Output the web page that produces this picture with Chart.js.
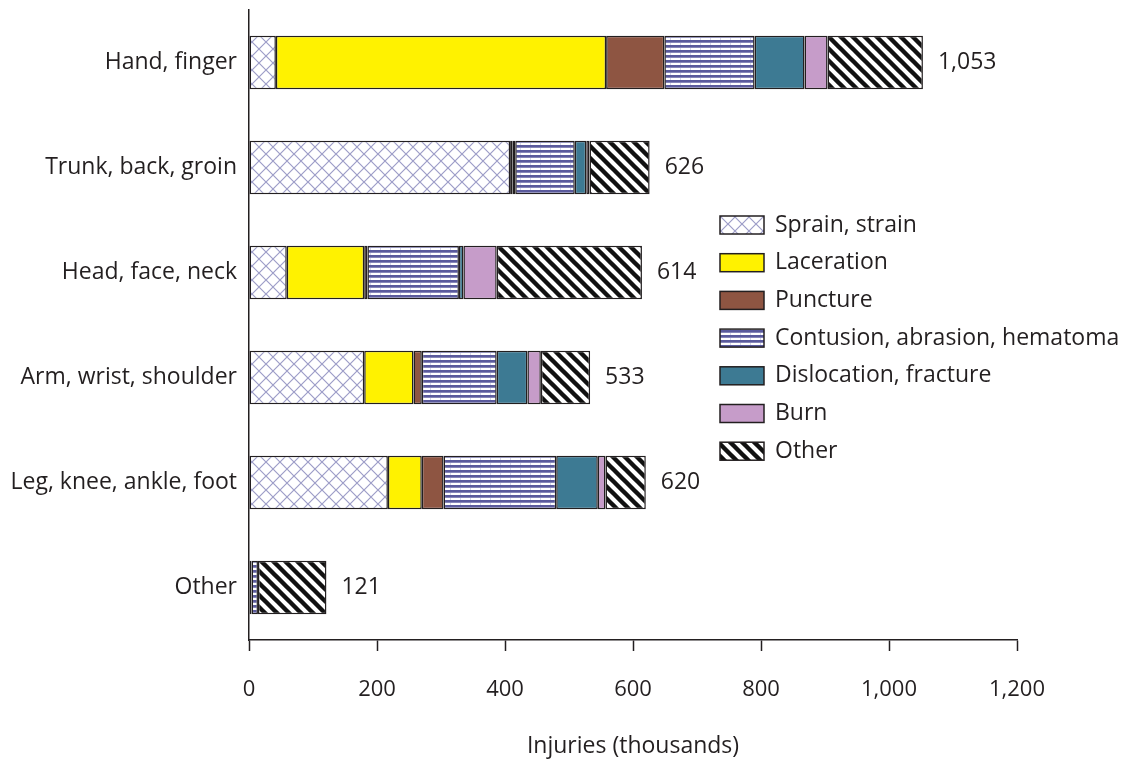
<!DOCTYPE html>
<html lang="en">
<head>
  <meta charset="UTF-8" />
  <title>Injuries by body part and type</title>
  <style>
    body {
      margin: 0;
      background: #fff;
    }
    #wrap {
      width: 1133px;
      height: 761px;
    }
  </style>
</head>
<body>
  <div id="wrap"><canvas id="chart" width="1133" height="761"></canvas></div>

  <script src="https://cdn.jsdelivr.net/npm/chart.js"></script>
  <script>
    // categories (top to bottom)
    const bodyParts = ["Hand, finger", "Trunk, back, groin", "Head, face, neck", "Arm, wrist, shoulder", "Leg, knee, ankle, foot", "Other"];

    // injury types, thousands
    const sprain     = [42, 408, 59, 180, 217, 1];
    const laceration = [516, 4, 121, 77, 53, 0];
    const puncture   = [91, 4, 5, 13, 34, 3];
    const contusion  = [141, 93, 143, 117, 176, 10];
    const dislocation = [78, 18, 7, 48, 65, 0];
    const burn       = [36, 5, 52, 21, 12, 0];
    const other      = [149, 94, 227, 77, 63, 107];

    const totalLabels = ["1,053", "626", "614", "533", "620", "121"];
    const xTicks = [0, 200, 400, 600, 800, 1000, 1200];

    const ink = "#231f20";
    const font = "'Open Sans', 'DejaVu Sans', sans-serif";

    function tile(w, h, draw) {
      const c = document.createElement("canvas");
      c.width = w; c.height = h;
      const g = c.getContext("2d");
      g.fillStyle = "#fff";
      g.fillRect(0, 0, w, h);
      draw(g);
      return document.getElementById("chart").getContext("2d").createPattern(c, "repeat");
    }

    // diamond lattice for sprain
    const sprainFill = tile(14, 14, g => {
      g.strokeStyle = "#9d9dc8";
      g.lineWidth = 1.2;
      g.beginPath();
      g.moveTo(-1, -1); g.lineTo(15, 15);
      g.moveTo(15, -1); g.lineTo(-1, 15);
      g.stroke();
    });

    // horizontal stripes for contusion
    const contusionFill = tile(10, 5, g => {
      g.fillStyle = "#5a5a9c";
      g.fillRect(0, 0, 10, 2);
      g.fillStyle = "#8686b8";
      g.fillRect(0, 2, 10, 1);
      g.fillStyle = "#d4d4e8";
      g.fillRect(0, 3, 1, 2);
    });

    // black diagonal stripes for other
    const otherFill = tile(12, 12, g => {
      g.strokeStyle = "#111";
      g.lineWidth = 4.4;
      g.beginPath();
      [-12, 0, 12].forEach(x0 => {
        g.moveTo(x0 - 2, -2);
        g.lineTo(x0 + 14, 14);
      });
      g.stroke();
    });

    const series = [
      { label: "Sprain, strain", data: sprain, fill: sprainFill },
      { label: "Laceration", data: laceration, fill: "#fff200" },
      { label: "Puncture", data: puncture, fill: "#8e5542" },
      { label: "Contusion, abrasion, hematoma", data: contusion, fill: contusionFill },
      { label: "Dislocation, fracture", data: dislocation, fill: "#3d7a93" },
      { label: "Burn", data: burn, fill: "#c69cc9" },
      { label: "Other", data: other, fill: otherFill }
    ];

    const totalsPlugin = {
      id: "totals",
      afterDatasetsDraw(chart) {
        const ctx = chart.ctx;
        const xs = chart.scales.x, ys = chart.scales.y;
        ctx.save();
        ctx.font = "23px " + font;
        ctx.fillStyle = ink;
        ctx.textAlign = "left";
        ctx.textBaseline = "middle";
        bodyParts.forEach((p, i) => {
          let sum = 0;
          series.forEach(s => sum += s.data[i]);
          ctx.fillText(totalLabels[i], xs.getPixelForValue(sum) + 15, ys.getPixelForValue(i));
        });
        ctx.restore();
      }
    };

    const legendPlugin = {
      id: "boxLegend",
      afterDraw(chart) {
        const ctx = chart.ctx;
        ctx.save();
        ctx.font = "23px " + font;
        ctx.textBaseline = "middle";
        ctx.textAlign = "left";
        series.forEach((s, i) => {
          const cy = 225 + i * 37.7;
          ctx.fillStyle = s.fill;
          ctx.fillRect(720, cy - 9, 44, 18);
          ctx.strokeStyle = ink;
          ctx.lineWidth = 1.5;
          ctx.strokeRect(720, cy - 9, 44, 18);
          ctx.fillStyle = ink;
          ctx.fillText(s.label, 775, cy);
        });
        ctx.restore();
      }
    };

    new Chart(document.getElementById("chart"), {
      type: "bar",
      data: {
        labels: bodyParts,
        datasets: series.map(s => ({
          label: s.label,
          data: s.data,
          backgroundColor: s.fill,
          borderColor: ink,
          borderWidth: 1.5,
          borderSkipped: false,
          barPercentage: 0.51,
          categoryPercentage: 1
        }))
      },
      options: {
        indexAxis: "y",
        responsive: false,
        animation: false,
        layout: { padding: { top: 10, right: 116, bottom: 0, left: 0 } },
        plugins: {
          legend: { display: false },
          tooltip: { enabled: false }
        },
        scales: {
          x: {
            stacked: true,
            min: 0,
            max: 1200,
            afterBuildTicks: axis => { axis.ticks = xTicks.map(v => ({ value: v })); },
            afterFit: axis => { axis.height = 121; axis.paddingLeft = 0; axis.paddingRight = 0; },
            grid: { drawOnChartArea: false, drawTicks: true, tickLength: 11, tickColor: ink, tickWidth: 1.5 },
            border: { display: true, color: ink, width: 1.5 },
            ticks: {
              padding: 26,
              color: ink,
              font: { family: font, size: 22 },
              maxRotation: 0,
              callback: v => v.toLocaleString("en-US")
            },
            title: {
              display: true,
              text: "Injuries (thousands)",
              color: ink,
              font: { family: font, size: 23 },
              padding: { top: 0, bottom: 1 }
            }
          },
          y: {
            stacked: true,
            afterFit: axis => { axis.width = 249; axis.paddingTop = 0; axis.paddingBottom = 0; },
            grid: { display: false, drawTicks: false },
            border: { display: true, color: ink, width: 1.5 },
            ticks: {
              padding: 12,
              color: ink,
              font: { family: font, size: 23 }
            }
          }
        }
      },
      plugins: [totalsPlugin, legendPlugin]
    });
  </script>
</body>
</html>
